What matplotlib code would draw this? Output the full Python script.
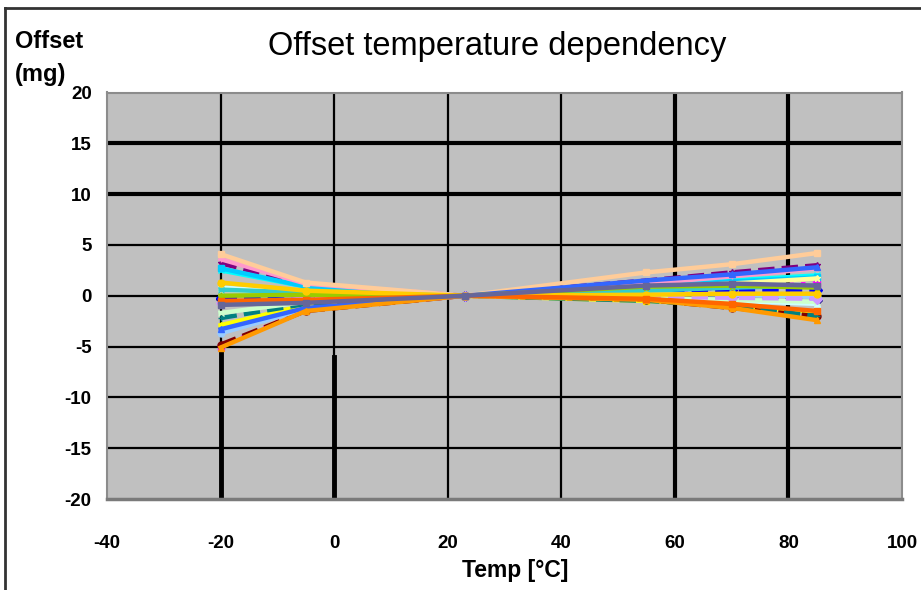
import matplotlib
matplotlib.use("Agg")
import matplotlib.pyplot as plt

plt.rcParams['font.family'] = ['Liberation Sans', 'DejaVu Sans']
plt.rcParams['axes.unicode_minus'] = False

# Temperatures [°C] at which offset was measured
temps = [-20, -5, 23, 55, 70, 85]

# Offset values (mg) per device
s_navy       = [-0.3, -0.6, 0, 0.0, -0.2, -0.4]
s_magenta    = [-5.0, -1.4, 0, 0.5, 0.8, 1.2]
s_yellow     = [-2.9, -0.9, 0, -0.5, -1.0, -1.6]
s_cyan       = [2.5, 0.9, 0, 1.0, 1.5, 2.0]
s_purple     = [3.2, 1.1, 0, 1.5, 2.3, 3.0]
s_maroon     = [-4.8, -1.5, 0, -0.4, -1.2, -2.0]
s_teal       = [-2.2, -0.8, 0, -0.5, -1.0, -2.0]
s_blue       = [-0.2, -0.3, 0, 0.4, 0.6, 0.6]
s_skyblue    = [2.7, 0.9, 0, 0.9, 1.4, 1.8]
s_lturq      = [0.8, 0.3, 0, -0.3, -0.5, -0.8]
s_lgreen     = [-1.7, -0.6, 0, -0.2, -0.4, -0.6]
s_lyellow    = [0.6, 0.2, 0, 0.8, 1.2, 1.7]
s_paleblue   = [-3.7, -1.3, 0, 0.2, 0.1, -0.1]
s_rose       = [3.6, 1.2, 0, 1.2, 1.9, 2.7]
s_lavender   = [-0.7, -0.3, 0, -0.1, -0.2, -0.3]
s_tan        = [4.1, 1.3, 0, 2.3, 3.1, 4.2]
s_lblue      = [-3.3, -1.2, 0, 1.5, 2.1, 2.8]
s_aqua       = [0.6, 0.3, 0, 0.5, 0.8, 1.0]
s_lime       = [0.0, 0.1, 0, 0.9, 1.0, 0.8]
s_gold       = [1.3, 0.5, 0, 0.1, 0.2, 0.2]
s_lorange    = [-5.1, -1.5, 0, -0.4, -1.2, -2.4]
s_orange     = [-0.5, -0.4, 0, -0.3, -0.8, -1.5]
s_bluegray   = [-0.9, -0.7, 0, 1.0, 1.2, 1.0]

series = [s_navy, s_magenta, s_yellow, s_cyan, s_purple, s_maroon, s_teal,
          s_blue, s_skyblue, s_lturq, s_lgreen, s_lyellow, s_paleblue,
          s_rose, s_lavender, s_tan, s_lblue, s_aqua, s_lime, s_gold,
          s_lorange, s_orange, s_bluegray]

colors = ['#000080', '#FF00FF', '#FFFF00', '#00FFFF', '#800080', '#800000',
          '#008080', '#0000FF', '#00CCFF', '#CCFFFF', '#CCFFCC', '#FFFF99',
          '#99CCFF', '#FF99CC', '#CC99FF', '#FFCC99', '#3366FF', '#33CCCC',
          '#99CC00', '#FFCC00', '#FF9900', '#FF6600', '#666699']
markers = ['D', 's', '^', 'x', '*', 'o', '+', 'D', 's', '^', 'x', '*', 'o',
           '+', 'D', 's', '^', 'x', '*', 'o', '^', 's', 's']
styles = ['--', ':', '-', '-', '--', '--', '--', '--', '-', '-', '-', '-',
          '-', '-', '--', '-', '-', '-', '-', '-', '-', '-', '-']

fig = plt.figure(figsize=(9.21, 5.90), dpi=100)
ax = fig.add_axes([107/921, 1-499/590, (902-107)/921, (499-92.5)/590])
ax.set_facecolor('#C0C0C0')

ax.set_xlim(-40, 100)
ax.set_ylim(-20, 20)
ax.set_xticks(range(-40, 101, 20))
ax.set_yticks(range(-20, 21, 5))

# grid lines (some drawn heavier, as in the reference)
for yv in range(-15, 20, 5):
    ax.axhline(yv, color='black', lw=3.0 if yv in (10, 15) else 1.6, zorder=1)
for xv in range(-20, 100, 20):
    ax.axvline(xv, color='black', lw=3.0 if xv in (60, 80) else 1.6, zorder=1)
ax.axvline(-20, ymin=0, ymax=0.375, color='black', lw=3.5, zorder=1)
ax.axvline(0, ymin=0, ymax=0.35, color='black', lw=3.5, zorder=1)

for vals, c, m, ls in zip(series, colors, markers, styles):
    ax.plot(temps, vals, color=c, lw=3.2, ls=ls, marker=m, ms=5,
            mec=c, mfc=c, zorder=3)

for sp in ax.spines.values():
    sp.set_color('#8C8C8C')
    sp.set_linewidth(1.5)
ax.spines['bottom'].set_color('#7A7A7A')
ax.spines['bottom'].set_linewidth(2.5)

ax.tick_params(length=0)
ax.tick_params(axis='x', pad=26, labelsize=13.5)
ax.tick_params(axis='y', pad=11, labelsize=13.5)
for lab in ax.get_xticklabels() + ax.get_yticklabels():
    lab.set_fontweight('bold')

fig.text(497/921, 1-46/590, 'Offset temperature dependency', fontsize=23.5,
         ha='center', va='center')
fig.text(15/921, 1-41/590, 'Offset', fontsize=17, fontweight='bold',
         ha='left', va='center')
fig.text(15/921, 1-74/590, '(mg)', fontsize=17, fontweight='bold',
         ha='left', va='center')
fig.text(515/921, 1-571/590, 'Temp [°C]', fontsize=16.5, fontweight='bold',
         ha='center', va='center')

# outer chart frame (top and left visible)
fig.add_artist(plt.Line2D([5/921, 1], [1-8/590, 1-8/590], color='#333333',
                          lw=2, transform=fig.transFigure))
fig.add_artist(plt.Line2D([5/921, 5/921], [0, 1-8/590], color='#333333',
                          lw=2, transform=fig.transFigure))

fig.savefig('out.png', dpi=100)
